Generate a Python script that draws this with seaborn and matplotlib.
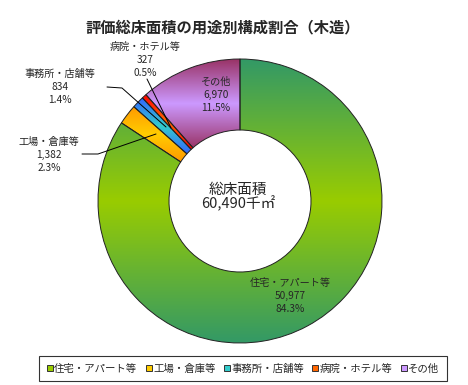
import numpy as np
import seaborn as sns
import matplotlib
matplotlib.use("Agg")
import matplotlib.pyplot as plt
from matplotlib.lines import Line2D
from matplotlib.colors import to_rgb

# データ
categories = ["住宅・アパート等", "工場・倉庫等", "事務所・店舗等", "病院・ホテル等", "その他"]
values = [50977, 1382, 834, 327, 6970]
percents = ["84.3%", "2.3%", "1.4%", "0.5%", "11.5%"]
total_label = "60,490千㎡"

light_colors = ["#99cc00", "#ffcc00", "#33cccc", "#ff6600", "#cc99ff"]
dark_colors = ["#339966", "#ff9900", "#3366ff", "#ff0000", "#993366"]

sns.set_theme(style="white")
plt.rcParams["font.family"] = ["Noto Sans CJK JP", "DejaVu Sans"]

W, H = 468, 385
fig = plt.figure(figsize=(W / 100, H / 100), dpi=100)
ax = fig.add_axes([0, 0, 1, 1])


def Y(y):
    # 画像座標(上から) -> 軸座標(下から)
    return H - y


cx, cy, R = 240, Y(201), 142
wedges, _ = ax.pie(values, radius=R, center=(cx, cy), startangle=90,
                   counterclock=False,
                   wedgeprops=dict(width=71, edgecolor="#222222", linewidth=0.7))

# グラデーション(上下が濃く、中央が明るい)
for w, lc, dc in zip(wedges, light_colors, dark_colors):
    bb = w.get_path().get_extents(w.get_patch_transform())
    t = np.abs(np.linspace(-1, 1, 200))[:, None, None]
    img = (1 - t) * np.array(to_rgb(lc)) + t * np.array(to_rgb(dc))
    img = np.repeat(img, 2, axis=1)
    im = ax.imshow(img, extent=(bb.x0, bb.x1, bb.y0, bb.y1), origin="lower",
                   aspect="auto", zorder=1, interpolation="bilinear")
    im.set_clip_path(w)
    w.set_facecolor("none")
    w.set_zorder(2)

ax.set_xlim(0, W)
ax.set_ylim(0, H)
ax.set_aspect("equal")
ax.axis("off")

# タイトル
fig.text(223 / W, Y(27) / H, "評価総床面積の用途別構成割合（木造）", ha="center", va="center",
         fontsize=11, fontweight="bold")

# 中央
ax.text(238, Y(190), "総床面積", ha="center", va="center", fontsize=10.5)
ax.text(238, Y(204), total_label, ha="center", va="center", fontsize=10.5)

# ラベル
label_pos = [(290, 296), (49, 155), (60, 87), (145, 60), (216, 95)]
for name, v, p, (lx, ly) in zip(categories, values, percents, label_pos):
    ax.text(lx, Y(ly), f"{name}\n{v:,}\n{p}", ha="center", va="center",
            fontsize=7.3, linespacing=1.35, zorder=5)

# 引出線
leaders = [
    [(82, 154), (98, 154), (156, 134)],
    [(107, 87), (122, 88), (166, 127)],
    [(147, 79), (171, 128)],
]
for pts in leaders:
    xs = [p[0] for p in pts]
    ys = [Y(p[1]) for p in pts]
    ax.plot(xs, ys, color="black", linewidth=0.7, zorder=4)

# 凡例
handles = [Line2D([], [], marker="s", linestyle="none", markersize=5,
                  markerfacecolor=c, markeredgecolor="#333333", markeredgewidth=0.7)
           for c in light_colors]
leg = fig.legend(handles, categories, ncol=5, mode="expand",
                 bbox_to_anchor=(34 / W, 2 / H, 418 / W, 29 / H), loc="center",
                 fontsize=7.5, frameon=True, fancybox=False, edgecolor="black",
                 handlelength=0.6, handletextpad=0.1, borderpad=0.75, columnspacing=0.5)
leg.get_frame().set_linewidth(0.8)

fig.savefig("out.png", dpi=100)
